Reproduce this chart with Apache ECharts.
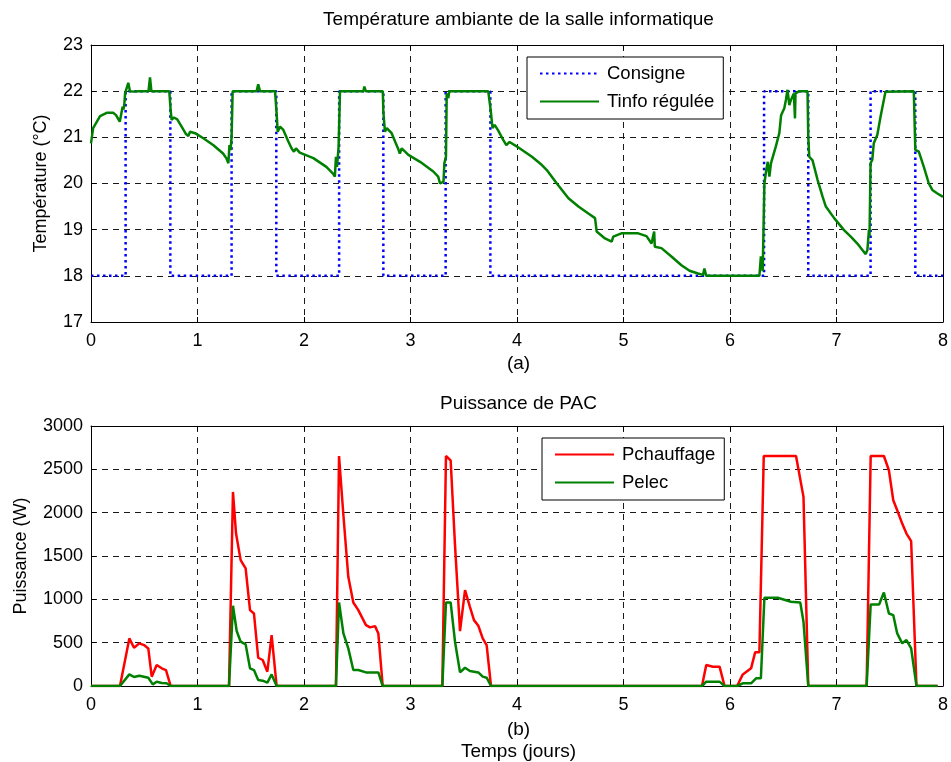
<!DOCTYPE html>
<html>
<head>
<meta charset="utf-8">
<script src="https://cdn.jsdelivr.net/npm/echarts@6/dist/echarts.min.js"></script>
<style>
html,body{margin:0;padding:0;background:#fff;}
#c{width:951px;height:762px;}
</style>
</head>
<body>
<div id="c"></div>
<script>
// ---- Data ----
const xTicks = [0, 1, 2, 3, 4, 5, 6, 7, 8];
const tempTicks = [17, 18, 19, 20, 21, 22, 23];
const powerTicks = [0, 500, 1000, 1500, 2000, 2500, 3000];

const consigneDays = [0, 0.325, 0.325, 0.745, 0.745, 1.32, 1.32, 1.74, 1.74, 2.33, 2.33, 2.745, 2.745, 3.33, 3.33, 3.75, 3.75, 6.32, 6.32, 6.735, 6.735, 7.32, 7.32, 7.74, 7.74, 8];
const consigneValues = [18, 18, 22, 22, 18, 18, 22, 22, 18, 18, 22, 22, 18, 18, 22, 22, 18, 18, 22, 22, 18, 18, 22, 22, 18, 18];

const tinfoDays = [0, 0.02, 0.085, 0.147, 0.21, 0.235, 0.27, 0.288, 0.297, 0.305, 0.313, 0.32, 0.335, 0.35, 0.366, 0.40, 0.45, 0.54, 0.554, 0.567, 0.735, 0.748, 0.757, 0.779, 0.81, 0.851, 0.892, 0.914, 0.93, 0.977, 1.055, 1.15, 1.24, 1.27, 1.29, 1.30, 1.31, 1.32, 1.33, 1.46, 1.555, 1.57, 1.587, 1.728, 1.743, 1.753, 1.775, 1.806, 1.853, 1.884, 1.906, 1.925, 1.96, 2.088, 2.21, 2.27, 2.29, 2.30, 2.31, 2.325, 2.338, 2.557, 2.567, 2.58, 2.74, 2.745, 2.76, 2.777, 2.823, 2.855, 2.886, 2.90, 2.917, 2.98, 3.09, 3.214, 3.26, 3.277, 3.293, 3.31, 3.318, 3.333, 3.34, 3.355, 3.364, 3.73, 3.753, 3.77, 3.79, 3.82, 3.872, 3.90, 3.93, 4.0, 4.14, 4.234, 4.28, 4.29, 4.374, 4.483, 4.577, 4.67, 4.733, 4.748, 4.826, 4.889, 4.904, 4.98, 5.138, 5.216, 5.263, 5.288, 5.294, 5.356, 5.45, 5.544, 5.62, 5.70, 5.746, 5.76, 5.777, 6.276, 6.29, 6.307, 6.323, 6.34, 6.355, 6.37, 6.385, 6.43, 6.463, 6.48, 6.51, 6.525, 6.54, 6.557, 6.572, 6.60, 6.61, 6.615, 6.65, 6.728, 6.735, 6.744, 6.775, 6.822, 6.87, 6.90, 6.978, 7.071, 7.134, 7.196, 7.243, 7.274, 7.29, 7.305, 7.31, 7.32, 7.336, 7.35, 7.383, 7.414, 7.46, 7.726, 7.74, 7.773, 7.82, 7.867, 7.90, 7.944, 8.0];
const tinfoValues = [20.87, 21.2, 21.46, 21.53, 21.53, 21.48, 21.34, 21.30, 21.66, 21.6, 21.72, 21.95, 21.99, 22.18, 22.0, 21.99, 22.0, 22.0, 22.3, 22.0, 22.0, 21.59, 21.38, 21.43, 21.39, 21.23, 21.07, 21.03, 21.12, 21.09, 20.98, 20.83, 20.65, 20.55, 20.44, 20.83, 20.72, 21.0, 22.0, 22.0, 22.0, 22.15, 22.0, 22.0, 21.52, 21.12, 21.23, 21.16, 20.91, 20.76, 20.69, 20.76, 20.67, 20.55, 20.36, 20.22, 20.15, 20.58, 20.36, 20.8, 22.0, 22.0, 22.1, 22.0, 22.0, 21.56, 21.12, 21.2, 21.09, 20.91, 20.74, 20.65, 20.76, 20.62, 20.47, 20.26, 20.15, 20.0, 19.97, 20.04, 20.44, 20.58, 21.95, 21.85, 22.0, 22.0, 21.59, 21.2, 21.27, 21.16, 20.94, 20.83, 20.9, 20.8, 20.58, 20.4, 20.29, 20.33, 20.0, 19.68, 19.5, 19.35, 19.25, 18.96, 18.81, 18.74, 18.85, 18.92, 18.92, 18.86, 18.7, 18.96, 18.63, 18.6, 18.42, 18.23, 18.11, 18.05, 18.02, 18.16, 18.0, 18.0, 18.42, 18.1, 20.0, 20.29, 20.47, 20.15, 20.44, 20.8, 21.09, 21.48, 21.63, 21.81, 22.03, 21.7, 21.81, 21.95, 21.41, 21.95, 22.0, 22.0, 21.01, 20.58, 20.5, 20.08, 19.71, 19.5, 19.25, 18.99, 18.85, 18.7, 18.56, 18.47, 18.56, 19.0, 18.85, 20.44, 20.51, 20.87, 21.05, 21.45, 21.99, 22.0, 20.73, 20.69, 20.36, 20.0, 19.86, 19.79, 19.71];

const pchaufDays = [0, 0.272, 0.36, 0.404, 0.454, 0.498, 0.538, 0.57, 0.617, 0.664, 0.704, 0.748, 1.296, 1.333, 1.362, 1.405, 1.452, 1.493, 1.53, 1.57, 1.612, 1.656, 1.696, 1.743, 2.30, 2.329, 2.37, 2.416, 2.463, 2.51, 2.582, 2.62, 2.667, 2.698, 2.739, 3.299, 3.333, 3.377, 3.418, 3.465, 3.512, 3.558, 3.596, 3.637, 3.678, 3.715, 3.756, 5.737, 5.777, 5.84, 5.902, 5.949, 6.067, 6.12, 6.198, 6.236, 6.276, 6.317, 6.62, 6.69, 6.735, 7.283, 7.321, 7.445, 7.492, 7.533, 7.57, 7.617, 7.657, 7.701, 7.751, 7.95];
const pchaufValues = [0, 0, 549, 442, 492, 472, 434, 108, 242, 204, 184, 0, 0, 2239, 1759, 1452, 1356, 876, 837, 326, 300, 165, 588, 0, 0, 2654, 1970, 1260, 964, 876, 703, 676, 691, 607, 0, 0, 2654, 2604, 1625, 634, 1106, 914, 760, 695, 549, 472, 0, 0, 242, 223, 223, 0, 0, 134, 204, 388, 388, 2654, 2654, 2182, 0, 0, 2654, 2654, 2489, 2143, 2028, 1874, 1759, 1671, 0, 0];

const pelecDays = [0, 0.272, 0.36, 0.404, 0.454, 0.538, 0.58, 0.617, 0.664, 0.71, 0.748, 1.296, 1.333, 1.368, 1.405, 1.452, 1.493, 1.53, 1.57, 1.612, 1.656, 1.696, 1.743, 2.30, 2.329, 2.37, 2.416, 2.463, 2.51, 2.582, 2.698, 2.739, 3.299, 3.333, 3.377, 3.418, 3.465, 3.512, 3.558, 3.637, 3.678, 3.715, 3.756, 5.737, 5.777, 5.902, 5.949, 6.067, 6.12, 6.198, 6.245, 6.29, 6.323, 6.448, 6.572, 6.66, 6.69, 6.735, 7.283, 7.321, 7.40, 7.445, 7.492, 7.533, 7.57, 7.617, 7.657, 7.701, 7.751, 7.95];
const pelecValues = [0, 0, 134, 104, 119, 96, 19, 50, 35, 31, 0, 0, 926, 634, 511, 480, 204, 184, 69, 61, 38, 134, 0, 0, 964, 607, 434, 184, 184, 157, 157, 0, 0, 964, 964, 511, 157, 211, 173, 157, 108, 96, 0, 0, 50, 50, 0, 0, 31, 31, 88, 88, 1018, 1018, 972, 964, 741, 0, 0, 941, 941, 1079, 837, 818, 607, 492, 530, 434, 0, 0];

const zip = (a, b) => a.map((v, i) => [v, b[i]]);

// ---- Chart ----
const FONT = 'Liberation Sans, Arial, sans-serif';
const FS = 18;     // tick labels / vertical labels
const FSH = 19;    // horizontal titles
const FSL = 18.5;  // legend
const chart = echarts.init(document.getElementById('c'), null, {renderer: 'canvas'});

const gridDash = {color: '#1a1a1a', type: [6, 5], width: 1};
function xAxisMain(gi) {
  return {
    type: 'value', gridIndex: gi, min: xTicks[0], max: xTicks[xTicks.length - 1], interval: 1,
    axisLine: {show: true, onZero: false, lineStyle: {color: '#000', width: 1}},
    axisTick: {show: true, inside: true, length: 5, lineStyle: {color: '#000'}},
    axisLabel: {color: '#000', fontSize: FS, fontFamily: FONT, margin: 10},
    splitLine: {show: true, lineStyle: gridDash}
  };
}
function xAxisTop(gi) {
  return {
    type: 'value', gridIndex: gi, position: 'top', min: xTicks[0], max: xTicks[xTicks.length - 1], interval: 1,
    axisLine: {show: true, onZero: false, lineStyle: {color: '#000', width: 1}},
    axisTick: {show: true, inside: true, length: 5, lineStyle: {color: '#000'}},
    axisLabel: {show: false}, splitLine: {show: false}
  };
}
function yAxisMain(gi, ticks, name, gap) {
  return {
    type: 'value', gridIndex: gi, min: ticks[0], max: ticks[ticks.length - 1], interval: ticks[1] - ticks[0],
    name: name, nameLocation: 'middle', nameGap: gap,
    nameTextStyle: {color: '#000', fontSize: FS, fontFamily: FONT},
    axisLine: {show: true, onZero: false, lineStyle: {color: '#000', width: 1}},
    axisTick: {show: true, inside: true, length: 5, lineStyle: {color: '#000'}},
    axisLabel: {color: '#000', fontSize: FS, fontFamily: FONT, margin: 8, formatter: v => String(v)},
    splitLine: {show: true, lineStyle: gridDash}
  };
}
function yAxisRight(gi, ticks) {
  return {
    type: 'value', gridIndex: gi, position: 'right', min: ticks[0], max: ticks[ticks.length - 1], interval: ticks[1] - ticks[0],
    axisLine: {show: true, onZero: false, lineStyle: {color: '#000', width: 1}},
    axisTick: {show: true, inside: true, length: 5, lineStyle: {color: '#000'}},
    axisLabel: {show: false}, splitLine: {show: false}
  };
}
function legendBox(names, left, top) {
  return {
    data: names, orient: 'vertical', left: left, top: top,
    itemWidth: 59, itemHeight: 14, itemGap: 9, padding: [7, 9, 8, 12],
    borderColor: '#000', borderWidth: 1, backgroundColor: '#fff',
    itemStyle: {opacity: 0},
    textStyle: {color: '#000', fontSize: FSL, fontFamily: FONT, padding: [0, 0, 0, 3]}
  };
}
function label(text, x, y, size) {
  return {type: 'text', x: x, y: y, style: {text: text, fill: '#000', font: size + 'px ' + FONT, align: 'center', verticalAlign: 'middle'}};
}

const option = {
  animation: false,
  backgroundColor: '#fff',
  grid: [
    {left: 91, right: 5, top: 45, height: 277},
    {left: 91, right: 5, top: 426, height: 260}
  ],
  xAxis: [xAxisMain(0), xAxisTop(0), xAxisMain(1), xAxisTop(1)],
  yAxis: [
    yAxisMain(0, tempTicks, 'Température (°C)', 41), yAxisRight(0, tempTicks),
    yAxisMain(1, powerTicks, 'Puissance (W)', 61), yAxisRight(1, powerTicks)
  ],
  legend: [
    legendBox(['Consigne', 'Tinfo régulée'], 527, 57),
    legendBox(['Pchauffage', 'Pelec'], 542, 438)
  ],
  graphic: [
    label('Température ambiante de la salle informatique', 518.5, 20, FSH),
    label('(a)', 518.5, 364, FSH),
    label('Puissance de PAC', 518.5, 404, FSH),
    label('(b)', 518.5, 730, FSH),
    label('Temps (jours)', 518.5, 752, FSH)
  ],
  series: [
    {
      name: 'Consigne', type: 'line', xAxisIndex: 0, yAxisIndex: 0, symbol: 'none',
      data: zip(consigneDays, consigneValues),
      lineStyle: {color: '#0000ff', width: 2.5, type: [2.5, 3.5]}, itemStyle: {color: '#0000ff'}
    },
    {
      name: 'Tinfo régulée', type: 'line', xAxisIndex: 0, yAxisIndex: 0, symbol: 'none',
      data: zip(tinfoDays, tinfoValues),
      lineStyle: {color: '#008000', width: 2.5}, itemStyle: {color: '#008000'}
    },
    {
      name: 'Pchauffage', type: 'line', xAxisIndex: 2, yAxisIndex: 2, symbol: 'none',
      data: zip(pchaufDays, pchaufValues),
      lineStyle: {color: '#ff0000', width: 2.5}, itemStyle: {color: '#ff0000'}
    },
    {
      name: 'Pelec', type: 'line', xAxisIndex: 2, yAxisIndex: 2, symbol: 'none',
      data: zip(pelecDays, pelecValues),
      lineStyle: {color: '#008000', width: 2.5}, itemStyle: {color: '#008000'}
    }
  ]
};
chart.setOption(option);
</script>
</body>
</html>
